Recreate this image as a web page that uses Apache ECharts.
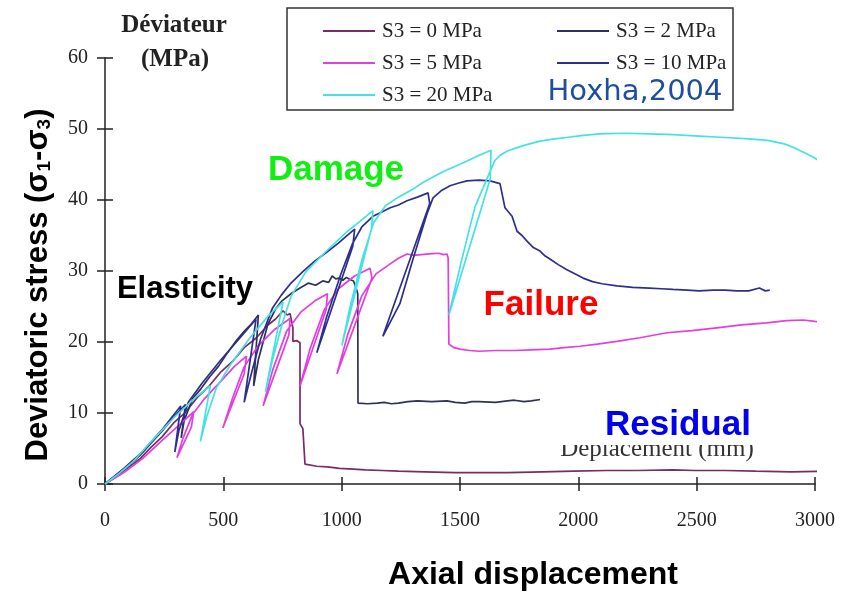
<!DOCTYPE html>
<html>
<head>
<meta charset="utf-8">
<script src="https://cdn.jsdelivr.net/npm/echarts@6/dist/echarts.min.js"></script>
<style>
  html, body { margin: 0; padding: 0; background: #fff; }
  #chart { width: 843px; height: 592px; }
</style>
</head>
<body>
<div id="chart"></div>
<script>
// Triaxial tests: deviatoric stress (MPa) vs axial displacement, per confining pressure S3
const seriesNames = ['S3 = 0 MPa', 'S3 = 2 MPa', 'S3 = 5 MPa', 'S3 = 10 MPa', 'S3 = 20 MPa'];
const seriesColors = ['#7a2a6a', '#30305e', '#e23ee0', '#2e2e8e', '#44e2e4'];

const xTicks = [0, 500, 1000, 1500, 2000, 2500, 3000];
const yTicks = [0, 10, 20, 30, 40, 50, 60];

// S3 = 0 MPa
const s3_0 = [[0,0],[50,1.1],[100,2.4],[150,3.6],[195,5.2],[240,6.6],[290,8.6],[340,10.1],[390,12.2],[440,13.8],
  [490,15.8],[540,17.3],[588,19.2],[640,20.6],[688,22.4],[720,23.2],[752,24.4],[770,23.8],[782,24.0],[794,22],
  [794,20.1],[810,20.2],[824,19.9],[824,8.5],[836,7.8],[845,2.8],[895,2.5],[940,2.4],[990,2.2],[1050,2.1],[1100,2.0],
  [1170,1.9],[1240,1.8],[1350,1.7],[1480,1.6],[1600,1.6],[1700,1.6],[1850,1.7],[1980,1.8],[2120,1.9],[2250,1.9],
  [2400,2.0],[2490,1.9],[2620,1.9],[2750,1.8],[2900,1.7],[3033,1.8]];

// S3 = 2 MPa
const s3_2 = [[0,0],[50,1.3],[100,2.6],[150,4.1],[195,5.8],[240,7.4],[290,9.4],[340,11.2],[322,6.5],[335,9],[370,12],
  [405,13.4],[440,15],[480,16.6],[518,18.5],[555,20.2],[588,21.5],[620,22.6],[648,23.8],[628,13.8],[648,17.5],[688,22.5],
  [720,24.6],[748,25.8],[790,26.9],[824,27.6],[860,28.3],[890,28.0],[920,28.6],[945,28.4],[960,29.3],[975,28.9],
  [990,29],[1005,28.7],[1020,29.1],[1035,28.8],[1050,28.6],[1062,27.5],[1068,26.8],[1069,11.4],[1110,11.3],
  [1150,11.4],[1180,11.5],[1210,11.3],[1240,11.4],[1280,11.6],[1320,11.7],[1380,11.6],[1445,11.7],[1480,11.5],
  [1520,11.4],[1550,11.6],[1580,11.6],[1650,11.5],[1700,11.7],[1730,11.8],[1770,11.6],[1800,11.7],[1840,11.9],[1876,12.0]];

// S3 = 5 MPa
const s3_5 = [[0,0],[80,1.6],[160,3.6],[230,5.8],[320,8.5],[375,10.2],[365,8],[304,3.7],[330,6.5],[370,9.8],[420,12],
  [490,14.5],[548,16.6],[598,18.0],[588,15.5],[498,7.9],[538,12],[588,16.5],[648,19.5],[718,21.8],[782,23.3],[777,21],
  [668,11],[708,16],[767,21.5],[827,24.2],[887,25.8],[940,26.8],[934,24.5],[824,13.8],[866,19],[926,24.5],[986,27.5],
  [1055,29.3],[1120,30.4],[1128,29],[980,15.5],[1025,21],[1085,26.5],[1145,29.6],[1205,31],[1240,31.8],[1276,32.4],
  [1305,32.2],[1335,32.3],[1370,32.4],[1410,32.5],[1430,32.3],[1445,32.4],[1450,31.8],[1453,19.7],[1475,19.2],[1500,19],
  [1540,18.8],[1582,18.7],[1650,18.8],[1730,18.8],[1800,18.9],[1880,19.0],[1940,19.2],[2007,19.4],[2080,19.7],
  [2163,20.1],[2260,20.6],[2375,21.3],[2480,21.6],[2585,22],[2690,22.4],[2795,22.7],[2880,23.0],[2950,23.1],
  [3000,22.9],[3033,22.8]];

// S3 = 10 MPa
const s3_10 = [[0,0],[80,2.2],[160,4.6],[245,7.8],[320,11],[295,4.5],[312,7.5],[352,11.5],[410,14.2],[490,17.5],
  [568,20.5],[638,23.2],[588,11.5],[618,15.5],[658,20.5],[708,24.8],[745,26.6],[786,28.3],[836,29.9],[886,31.4],
  [935,32.6],[985,33.9],[1020,34.9],[1055,35.9],[1047,33.5],[895,18.5],[936,23.5],[996,29.5],[1045,33.8],[1085,36.2],
  [1132,37.7],[1170,38.3],[1205,38.9],[1240,39.3],[1276,39.9],[1320,40.4],[1365,41.0],[1372,39.5],[1174,20.8],
  [1246,25.4],[1300,31.5],[1360,38],[1386,40.3],[1420,41.3],[1458,42],[1495,42.4],[1529,42.7],[1580,42.8],
  [1627,42.7],[1669,42.3],[1690,38.9],[1720,37.7],[1741,35.6],[1762,35.0],[1783,34.2],[1810,33.3],[1838,32.8],
  [1860,32.1],[1880,31.7],[1915,30.9],[1950,30.2],[1985,29.6],[2020,29],[2060,28.5],[2100,28.2],[2163,27.9],
  [2230,27.7],[2300,27.6],[2350,27.5],[2400,27.4],[2460,27.3],[2510,27.2],[2570,27.3],[2620,27.3],[2670,27.2],
  [2720,27.2],[2765,27.6],[2790,27.2],[2809,27.3]];

// S3 = 20 MPa
const s3_20 = [[0,0],[60,1.5],[120,3.2],[190,5.8],[290,9.3],[390,12.4],[445,13.8],[403,6.0],[430,9.5],[470,13.5],
  [530,16.8],[610,20.5],[688,23.6],[752,25.6],[678,13.0],[708,17.5],[748,22.5],[787,26.5],[847,29.8],[926,32.5],
  [1025,35.6],[1085,37.2],[1132,38.5],[1126,36],[1001,19.5],[1036,25],[1085,31.5],[1135,36.8],[1185,39.2],[1240,40.4],
  [1300,41.5],[1340,42.4],[1384,43.2],[1430,44.0],[1483,44.8],[1530,45.5],[1582,46.3],[1631,47.0],[1628,43.0],
  [1453,23.8],[1503,31],[1563,39],[1633,44.5],[1648,45.6],[1670,46.3],[1700,46.9],[1770,47.7],[1838,48.3],
  [1900,48.6],[1950,48.8],[2020,49.1],[2091,49.3],[2200,49.4],[2300,49.3],[2400,49.2],[2510,49.0],[2620,48.8],
  [2720,48.6],[2800,48.4],[2870,47.9],[2910,47.4],[2940,46.9],[2990,46.1],[3033,45.2]];

const seriesData = [s3_0, s3_2, s3_5, s3_10, s3_20];

const chart = echarts.init(document.getElementById('chart'), null, { renderer: 'canvas' });

const serif = 'Liberation Serif, Times New Roman, serif';
const sans = 'Liberation Sans, Arial, sans-serif';

const axisBase = {
  type: 'value',
  splitLine: { show: false },
  axisLine: { show: true, onZero: false, lineStyle: { color: '#222', width: 1.5 } }
};
const plain = v => String(v);

const legendBase = {
  orient: 'vertical', top: 15,
  icon: 'rect', itemWidth: 52, itemHeight: 2, itemGap: 10,
  textStyle: { fontFamily: serif, fontSize: 21, lineHeight: 22, color: '#222', padding: [0, 0, 0, 2] }
};

const option = {
  animation: false,
  backgroundColor: '#fff',
  grid: { left: 105, right: 28, top: 58, bottom: 108, containLabel: false },
  xAxis: [
    Object.assign({}, axisBase, {
      min: xTicks[0], max: xTicks[xTicks.length - 1], interval: 500, position: 'bottom',
      axisTick: { show: true, length: 7, lineStyle: { color: '#222', width: 1.5 } },
      axisLabel: { margin: 27, fontFamily: serif, fontSize: 20, color: '#222', formatter: plain }
    }),
    Object.assign({}, axisBase, {
      min: xTicks[0], max: xTicks[xTicks.length - 1], interval: 500, position: 'bottom',
      axisLine: { show: false },
      axisTick: { show: true, inside: true, length: 7, lineStyle: { color: '#222', width: 1.5 } },
      axisLabel: { show: false }
    })
  ],
  yAxis: [
    Object.assign({}, axisBase, {
      min: yTicks[0], max: yTicks[yTicks.length - 1], interval: 10, position: 'left',
      axisTick: { show: true, length: 8, lineStyle: { color: '#222', width: 1.5 } },
      axisLabel: { margin: 17, fontFamily: serif, fontSize: 20, color: '#222', formatter: plain }
    }),
    Object.assign({}, axisBase, {
      min: yTicks[0], max: yTicks[yTicks.length - 1], interval: 10, position: 'left',
      axisLine: { show: false },
      axisTick: { show: true, inside: true, length: 8, lineStyle: { color: '#222', width: 1.5 } },
      axisLabel: { show: false }
    })
  ],
  legend: [
    Object.assign({}, legendBase, { data: [seriesNames[0], seriesNames[2], seriesNames[4]], left: 318 }),
    Object.assign({}, legendBase, { data: [seriesNames[1], seriesNames[3]], left: 552 })
  ],
  series: seriesData.map((d, i) => ({
    name: seriesNames[i],
    type: 'line',
    xAxisIndex: 0,
    yAxisIndex: 0,
    data: d,
    symbol: 'none',
    clip: false,
    color: seriesColors[i],
    lineStyle: { width: 1.7, color: seriesColors[i] },
    z: 2 + i
  })),
  graphic: [
    { type: 'rect', shape: { x: 287, y: 8, width: 446, height: 102 },
      style: { fill: 'none', stroke: '#333', lineWidth: 1.5 }, z: 10 },
    { type: 'text', x: 635, y: 92, style: { text: 'Hoxha,2004', font: '29px "DejaVu Sans", Verdana, sans-serif',
      fill: '#1f4e9e', align: 'center', verticalAlign: 'middle' }, z: 11 },
    { type: 'text', x: 174, y: 26, style: { text: 'Déviateur', font: 'bold 25px ' + serif,
      fill: '#222', align: 'center', verticalAlign: 'middle' }, z: 11 },
    { type: 'text', x: 175, y: 60, style: { text: '(MPa)', font: 'bold 25px ' + serif,
      fill: '#222', align: 'center', verticalAlign: 'middle' }, z: 11 },
    { type: 'text', x: 336, y: 170, style: { text: 'Damage', font: 'bold 35px ' + sans,
      fill: '#11ee11', align: 'center', verticalAlign: 'middle' }, z: 11 },
    { type: 'text', x: 185, y: 289, style: { text: 'Elasticity', font: 'bold 31px ' + sans,
      fill: '#000', align: 'center', verticalAlign: 'middle' }, z: 11 },
    { type: 'text', x: 541, y: 305, style: { text: 'Failure', font: 'bold 35px ' + sans,
      fill: '#ff0000', align: 'center', verticalAlign: 'middle' }, z: 11 },
    // original axis caption, partly hidden under the "Residual" label box
    { type: 'text', x: 657, y: 449, style: { text: 'Déplacement (mm)', font: '25px ' + serif,
      fill: '#333', align: 'center', verticalAlign: 'middle' }, z: 11 },
    { type: 'rect', shape: { x: 540, y: 398, width: 240, height: 47 },
      style: { fill: '#fff' }, z: 12 },
    { type: 'text', x: 678, y: 425, style: { text: 'Residual', font: 'bold 35px ' + sans,
      fill: '#0000ee', align: 'center', verticalAlign: 'middle' }, z: 13 },
    { type: 'text', x: 533, y: 575, style: { text: 'Axial displacement',
      font: 'bold 32px ' + sans, fill: '#000', align: 'center', verticalAlign: 'middle' }, z: 11 },
    { type: 'text', x: 38, y: 285, rotation: Math.PI / 2, style: {
      text: '{a|Deviatoric stress (σ}{s|1}{a|-σ}{s|3}{a|)}',
      align: 'center', verticalAlign: 'middle',
      rich: {
        a: { font: 'bold 31px ' + sans, fill: '#000', lineHeight: 32 },
        s: { font: 'bold 19px ' + sans, fill: '#000', lineHeight: 19, verticalAlign: 'bottom' }
      } }, z: 11 }
  ]
};

chart.setOption(option);
</script>
</body>
</html>
